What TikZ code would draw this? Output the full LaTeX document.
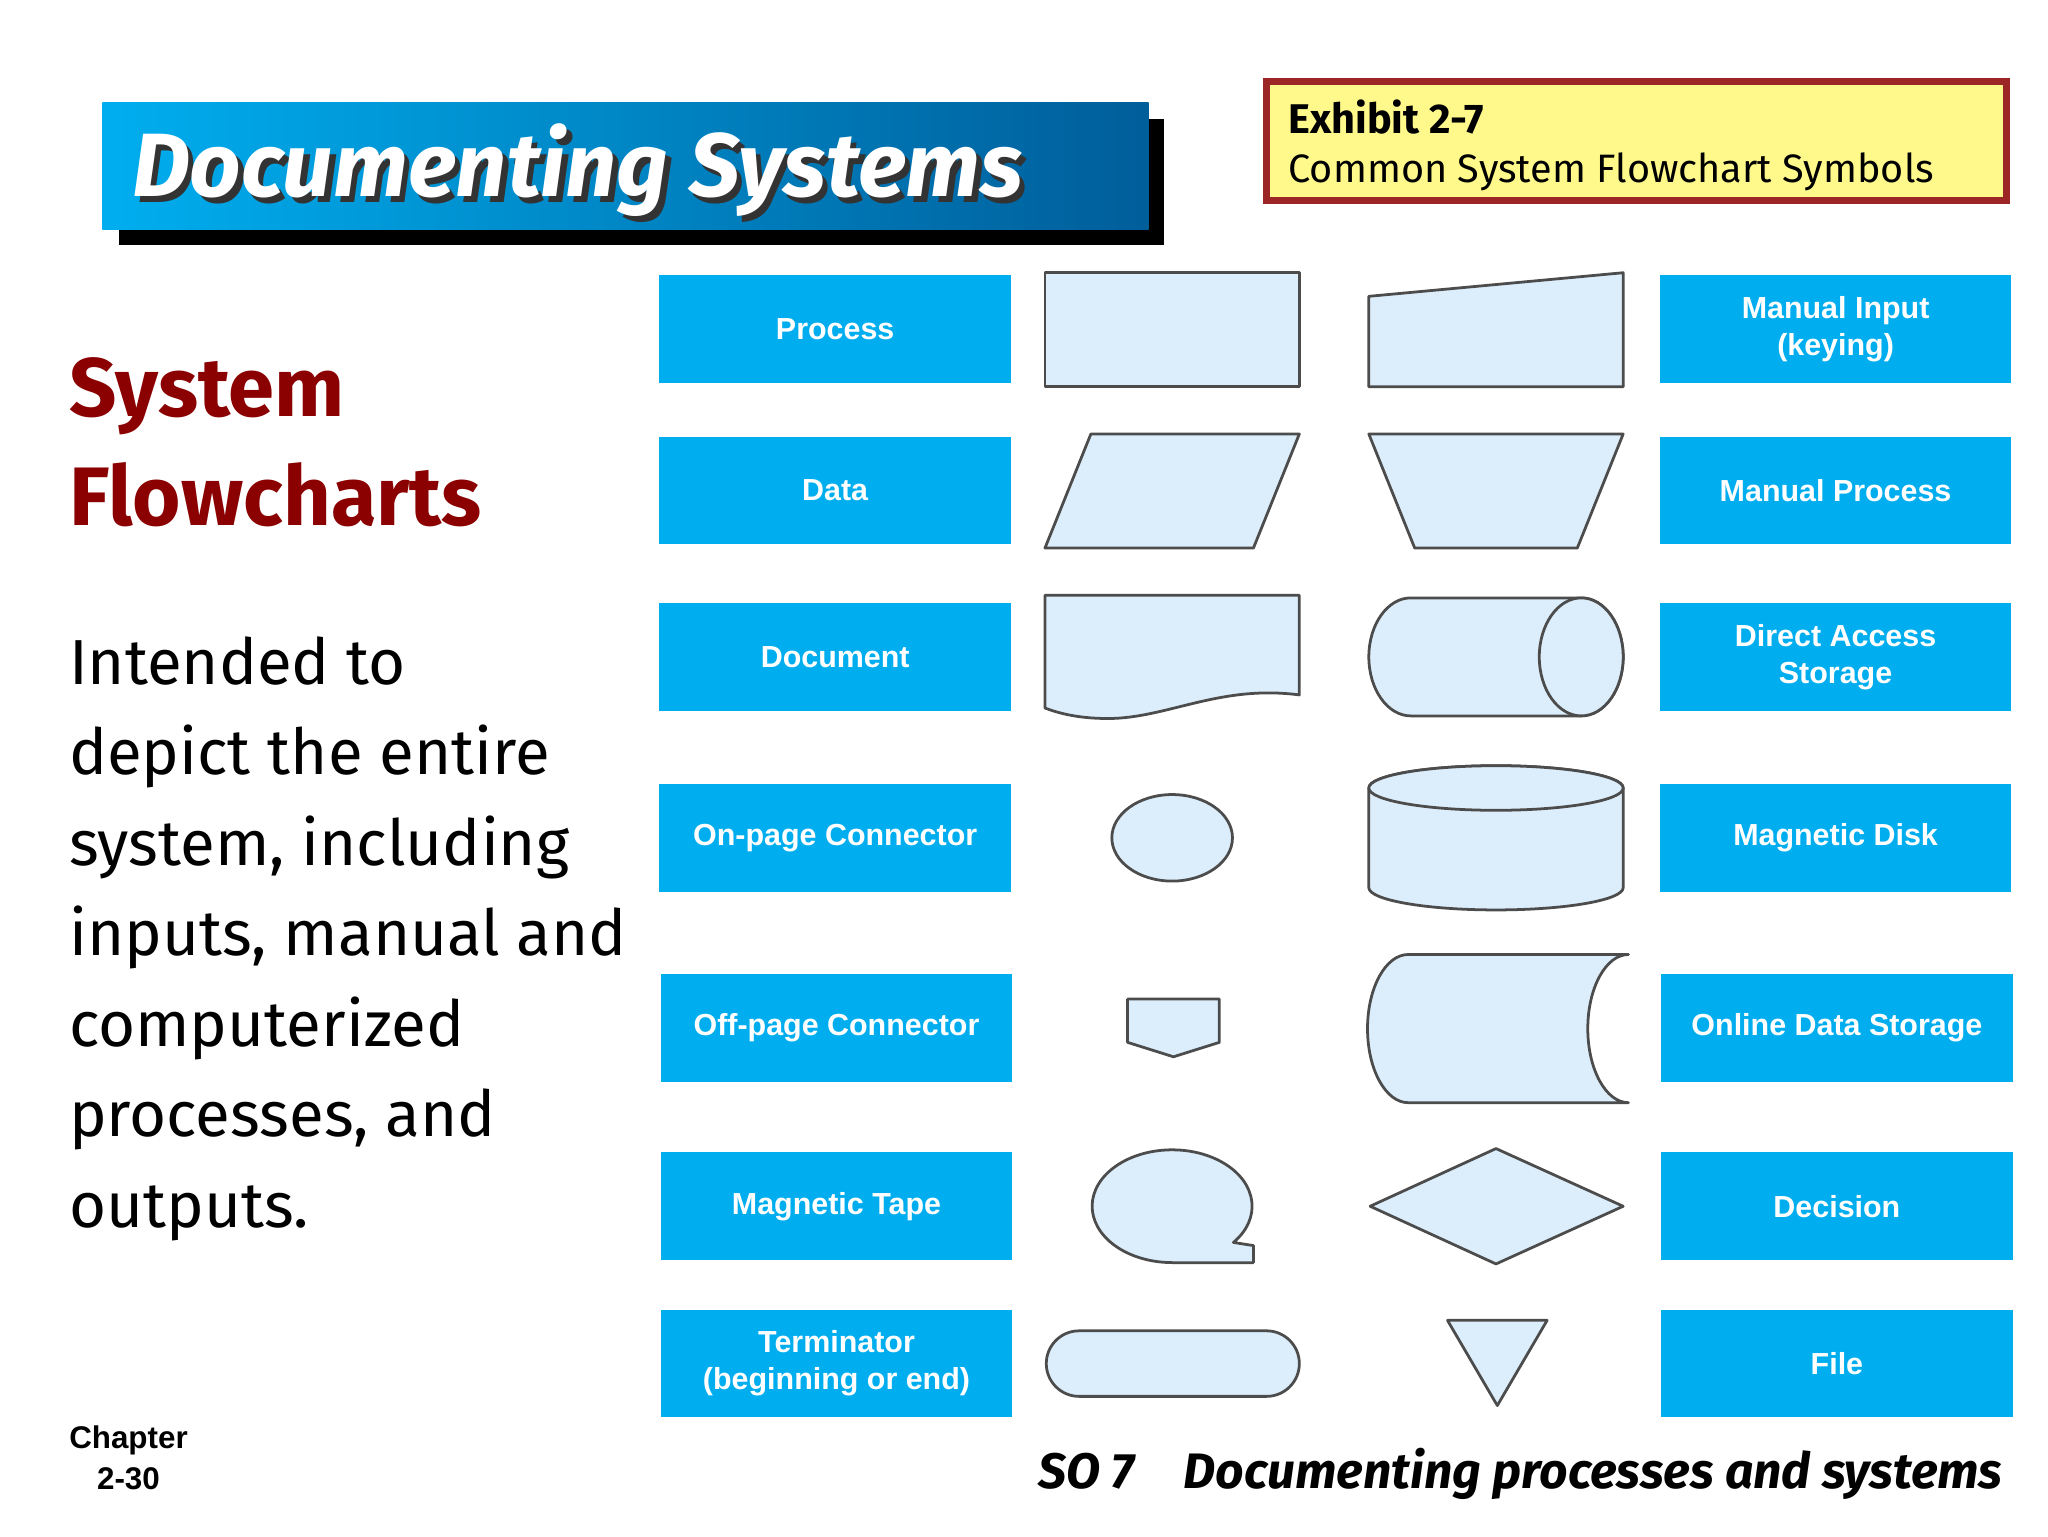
\documentclass[tikz,border=0pt]{standalone}
\usepackage{fontspec}
\setmainfont{Fira Sans}
\newfontfamily\arialf{Liberation Sans}
\definecolor{boxblue}{HTML}{00AEEF}
\definecolor{shapefill}{HTML}{DCEEFB}
\definecolor{dred}{HTML}{8B0000}
\begin{document}
\begin{tikzpicture}[x=0.01cm,y=-0.01cm,
  lbl/.style={fill=boxblue,text=white,font=\arialf\bfseries\fontsize{6.6}{8}\selectfont,align=center,minimum width=2.68cm,minimum height=0.82cm,inner sep=0pt},
  shp/.style={fill=shapefill,draw=black!70,line width=0.6pt,line join=round},
  body/.style={anchor=base west,font=\fontsize{13.8}{16}\selectfont,inner sep=0pt}]
\useasboundingbox (0,0) rectangle (1562,1172);
\fill[white] (0,0) rectangle (1562,1172);
% banner
\fill[black] (91,91) rectangle (888,187);
\shade[left color=boxblue,right color=boxblue!60!black!90!blue] (78,78) rectangle (876,175);
\node[anchor=west,font=\bfseries\itshape\fontsize{19.5}{22}\selectfont,text=black!80,inner sep=0pt] at (104,134) {Documenting Systems};
\node (title)[anchor=west,font=\bfseries\itshape\fontsize{19.5}{22}\selectfont,text=white,inner sep=0pt] at (100,130) {Documenting Systems};
% exhibit
\draw[fill=yellow!45,draw=dred!85,line width=1.5pt] (966,62) rectangle (1530,153);
\node (ex1)[anchor=base west,font=\bfseries\fontsize{9}{11}\selectfont,inner sep=0pt] at (982,102) {Exhibit 2-7};
\node (ex2)[anchor=base west,font=\fontsize{8.6}{11}\selectfont,inner sep=0pt] at (982,139) {Common System Flowchart Symbols};
% left text
\node (sys)[anchor=base west,font=\bfseries\fontsize{18}{22}\selectfont,text=dred,inner sep=0pt] at (52,318) {System};
\node (flow)[anchor=base west,font=\bfseries\fontsize{18}{22}\selectfont,text=dred,inner sep=0pt] at (52,401) {Flowcharts};
\node (b1)[body] at (52,522) {Intended to};
\node (b2)[body] at (52,591) {depict the entire};
\node (b3)[body] at (52,660) {system, including};
\node (b4)[body] at (52,729) {inputs, manual and};
\node (b5)[body] at (52,798) {computerized};
\node (b6)[body] at (52,867) {processes, and};
\node (b7)[body] at (52,936) {outputs.};
\node (ch)[font=\arialf\bfseries\fontsize{6.8}{9}\selectfont,align=center,inner sep=0pt] at (98,1112) {Chapter\\2-30};
\node (so)[anchor=base east,font=\bfseries\itshape\fontsize{10.8}{12}\selectfont,inner sep=0pt] at (1528,1135) {SO 7\quad Documenting processes and systems};
% labels
\node (l1)[lbl] at (637,251) {Process};
\node (l2)[lbl] at (637,374) {Data};
\node (l3)[lbl] at (637,501) {Document};
\node (l4)[lbl] at (637,639) {On-page Connector};
\node (l5)[lbl] at (638,784) {Off-page Connector};
\node (l6)[lbl] at (638,920) {Magnetic Tape};
\node (l7)[lbl] at (638,1040) {Terminator\\(beginning or end)};
\node (r1)[lbl] at (1400,251) {Manual Input\\(keying)};
\node (r2)[lbl] at (1400,374) {Manual Process};
\node (r3)[lbl] at (1400,501) {Direct Access\\Storage};
\node (r4)[lbl] at (1400,639) {Magnetic Disk};
\node (r5)[lbl] at (1401,784) {Online Data Storage};
\node (r6)[lbl] at (1401,920) {Decision};
\node (r7)[lbl] at (1401,1040) {File};
% shapes
\draw[shp] (797,208) rectangle (991,295);
\draw[shp] (1044,226) -- (1238,208) -- (1238,295) -- (1044,295) -- cycle;
\draw[shp] (832,331) -- (991,331) -- (956,418) -- (797,418) -- cycle;
\draw[shp] (1044,331) -- (1238,331) -- (1203,418) -- (1079,418) -- cycle;
\draw[shp] (797,454) -- (991,454) -- (991,530) .. controls (930,522) and (890,548) .. (845,548) .. controls (820,548) and (805,543) .. (797,540) -- cycle;
\draw[shp] (1206,456) -- (1076,456) arc[start angle=270,end angle=90,x radius=32,y radius=45] -- (1206,546) arc[start angle=90,end angle=-90,x radius=32,y radius=45] -- cycle;
\draw[shp] (1206,501) ellipse[x radius=32,y radius=45];
\draw[shp] (894,639) ellipse[x radius=46,y radius=33];
\draw[shp] (1044,601) -- (1044,677) arc[start angle=180,end angle=0,x radius=97,y radius=17] -- (1238,601) arc[start angle=0,end angle=-180,x radius=97,y radius=17] -- cycle;
\draw[shp] (1141,601) ellipse[x radius=97,y radius=17];
\draw[shp] (860,762) -- (930,762) -- (930,795) -- (895,806) -- (860,795) -- cycle;
\draw[shp] (1242,728) -- (1074,728) arc[start angle=270,end angle=90,x radius=31,y radius=56.5] -- (1242,841) arc[start angle=90,end angle=270,x radius=31,y radius=56.5] -- cycle;
\draw[shp] (894,963) -- (956,963) -- (956,950) -- (940.7,947.6) arc[start angle=40,end angle=-270,x radius=61,y radius=43] -- cycle;
\draw[shp] (1045,920) -- (1141,876) -- (1238,920) -- (1141,964) -- cycle;
\draw[shp,rounded corners=0.25cm] (798,1015) rectangle (991,1065);
\draw[shp] (1104,1007) -- (1180,1007) -- (1142,1072) -- cycle;
\end{tikzpicture}
\end{document}
